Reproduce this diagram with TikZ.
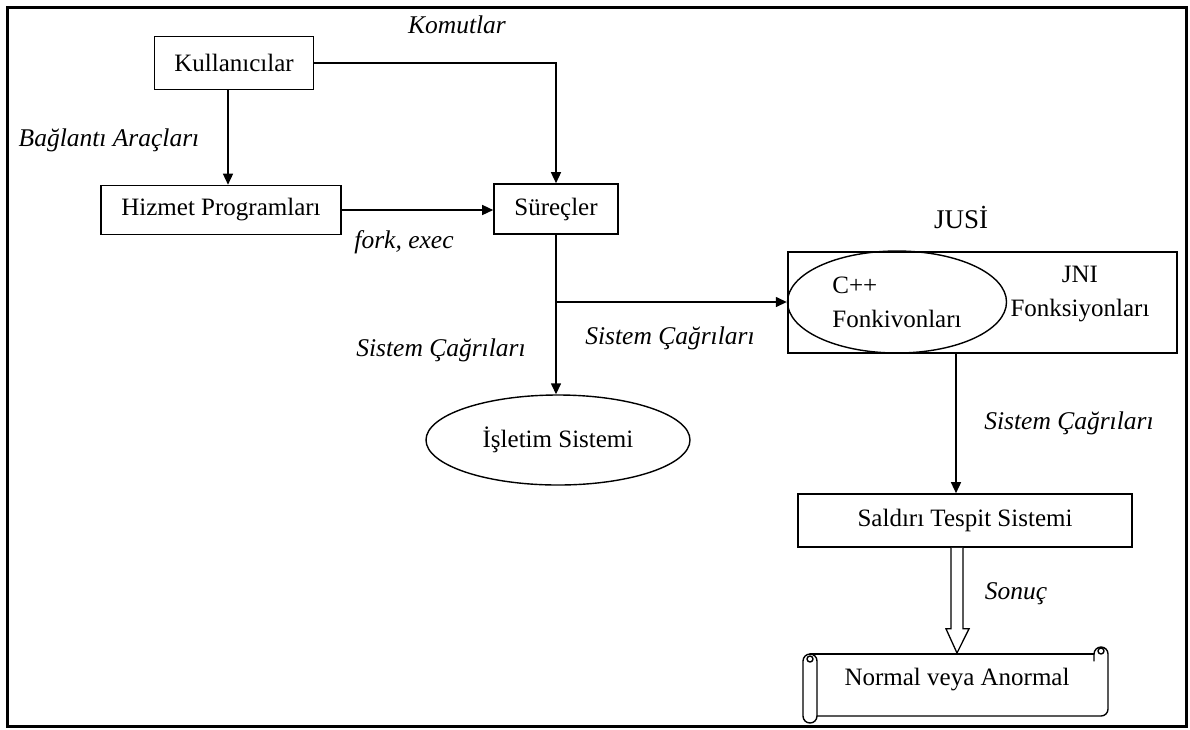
\documentclass[tikz,border=0pt]{standalone}
\usepackage{fontspec}
\setmainfont{Liberation Serif}
\usetikzlibrary{arrows.meta,shapes.geometric,calc}
\begin{document}
\begin{tikzpicture}[x=1pt,y=-1pt,
  every node/.style={font=\fontsize{25}{34}\selectfont, inner sep=0pt},
  box/.style={draw, line width=1.6pt},
  oval/.style={ellipse, draw, line width=1.4pt},
  lbl/.style={font=\fontsize{25.5}{30}\selectfont\itshape},
  arr/.style={line width=1.4pt, -{Triangle[length=11pt,width=10pt]}},
  scrollline/.style={line width=1.4pt, line cap=round, line join=round}]
\useasboundingbox (0,0) rectangle (1190,729);
\draw[line width=3pt] (7.5,7.5) rectangle (1186,726);

% nodes
\node[box, minimum width=159pt, minimum height=53pt] (kull) at (234,63) {Kullanıcılar};
\node[box, minimum width=240pt, minimum height=49pt] (hizmet) at (221,210) {Hizmet Programları};
\node[box, minimum width=124pt, minimum height=50pt] (surec) at (556,209) {Süreçler};
\node[oval, minimum width=264pt, minimum height=90pt] (isletim) at (558,440) {İşletim Sistemi};
\node[box, minimum width=389pt, minimum height=101pt] (jni) at (982.5,302.5) {};
\node[oval, minimum width=219pt, minimum height=102pt, align=left] (cpp) at (897,302) {C++\\Fonkivonları};
\node[align=center] (jnit) at (1080,294) {JNI\\Fonksiyonları};
\node[font=\fontsize{27}{32}\selectfont] (jusi) at (961,217) {JUSİ};
\node[box, minimum width=334pt, minimum height=53pt] (saldiri) at (965,520.5) {Saldırı Tespit Sistemi};
\node (normal) at (957,680) {Normal veya Anormal};

% labels
\node[lbl] (komut) at (457,25) {Komutlar};
\node[lbl] (bag) at (109,140) {Bağlantı Araçları};
\node[lbl] (fork) at (404,242) {fork, exec};
\node[lbl] (sc1) at (441,350) {Sistem Çağrıları};
\node[lbl] (sc2) at (670,338) {Sistem Çağrıları};
\node[lbl] (sc3) at (1069,423) {Sistem Çağrıları};
\node[lbl] (sonuc) at (1016,594) {Sonuç};

% connectors
\coordinate (kx) at (228,0);
\draw[arr] (kull.south -| kx) -- (hizmet.north -| kx);
\draw[arr] (kull.east) -| (surec.north);
\draw[arr] (hizmet.east) -- (surec.west |- hizmet.east);
\draw[arr] (surec.south) -- (surec.south |- isletim.north);
\coordinate (br) at (surec.south |- cpp.west);
\draw[arr] (br) -- (cpp.west);
\coordinate (jx) at (956,0);
\draw[arr] (jni.south -| jx) -- (saldiri.north -| jx);

% hollow block arrow
\coordinate (ax) at (957,0);
\coordinate (sa) at (saldiri.south -| ax);
\coordinate (stop) at (957,653);
\draw[line width=1.3pt, fill=white, line join=miter]
  ($(sa)+(-6,0)$) -- ($(sa)+(-6,81)$) -- ($(sa)+(-11,81)$) -- (stop)
  -- ($(sa)+(12,81)$) -- ($(sa)+(6,81)$) -- ($(sa)+(6,0)$);

% horizontal scroll
\draw[scrollline] (810,654) -- (1094,654);
\draw[scrollline] (817,716) -- (1101,716) arc[start angle=-90, end angle=0, radius=7pt] -- (1108,654)
  arc[start angle=0, end angle=180, radius=7pt] -- (1094,661);
\draw[scrollline] (1101,651) circle[radius=3pt];
\draw[scrollline] (817,661) arc[start angle=0, end angle=180, radius=7pt] -- (803,716)
  arc[start angle=180, end angle=360, radius=7pt] -- (817,661);
\draw[scrollline] (810,659) circle[radius=3pt];
\end{tikzpicture}
\end{document}
